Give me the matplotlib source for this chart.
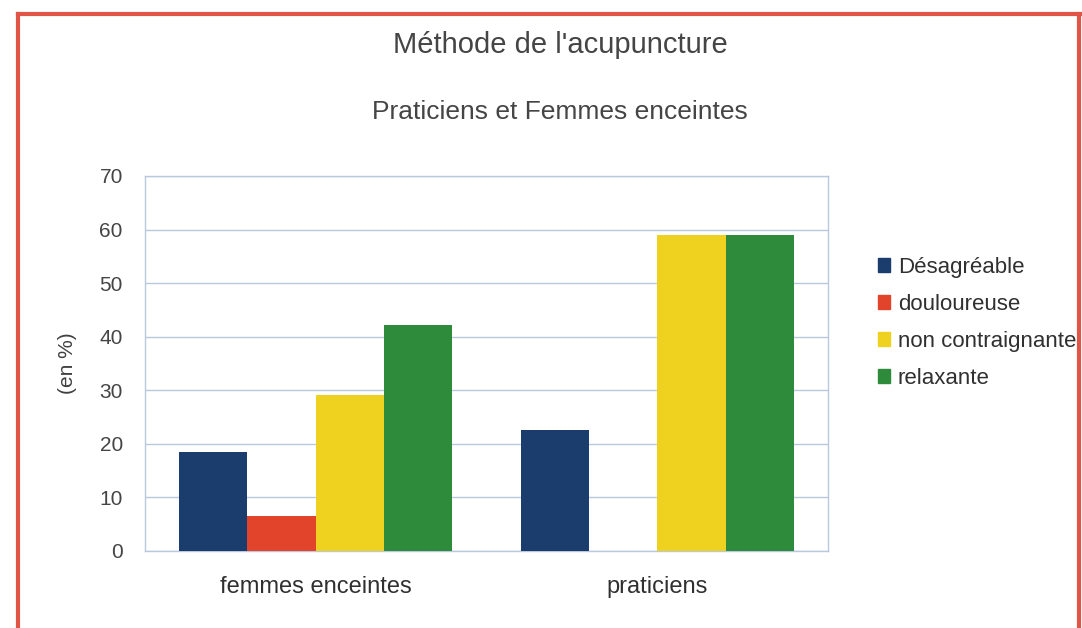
import matplotlib
matplotlib.use("Agg")
import matplotlib.pyplot as plt
import numpy as np
from matplotlib.patches import Rectangle
from matplotlib.lines import Line2D

plt.rcParams['font.family'] = ['Liberation Sans', 'DejaVu Sans']

categories = ["femmes enceintes", "praticiens"]
series_names = ["Désagréable", "douloureuse", "non contraignante", "relaxante"]
desagreable = [18.5, 22.5]
douloureuse = [6.5, 0]
non_contraignante = [29.2, 59]
relaxante = [42.2, 59]
yticks = [0, 10, 20, 30, 40, 50, 60, 70]

colors = ["#1b3d6d", "#e2432b", "#efd21f", "#2f8b3c"]
series = [desagreable, douloureuse, non_contraignante, relaxante]

fig = plt.figure(figsize=(10.82, 6.28), dpi=100)
ax = fig.add_axes([145/1082, 77/628, 683/1082, 375/628])

x = np.arange(len(categories))
w = 0.2
for i, (vals, c) in enumerate(zip(series, colors)):
    ax.bar(x + (i - 1.5) * w, vals, width=w, color=c, label=series_names[i], zorder=3)

ax.set_xlim(-0.5, 1.5)
ax.set_ylim(0, 70)
ax.set_yticks(yticks)
ax.set_yticklabels([str(t) for t in yticks], fontsize=15, color="#454545")
ax.set_xticks(x)
ax.set_xticklabels(categories, fontsize=17, color="#303030")
ax.tick_params(axis='x', length=0, pad=18)
ax.tick_params(axis='y', length=0, pad=16)
ax.grid(axis='y', color="#b9c9dd", linewidth=1.0, zorder=0)
for s in ax.spines.values():
    s.set_color("#b9c9dd")
    s.set_linewidth(1.0)
ax.set_ylabel("(en %)", fontsize=15, color="#404040", labelpad=16)

fig.text(560/1082, 1 - 45/628, "Méthode de l'acupuncture", ha='center', va='center',
         fontsize=21, color="#454545")
fig.text(560/1082, 1 - 112/628, "Praticiens et Femmes enceintes", ha='center', va='center',
         fontsize=19, color="#454545")

handles = [Rectangle((0, 0), 1, 1, color=c) for c in colors]
fig.legend(handles, series_names, loc='upper left', bbox_to_anchor=(860/1082, 1 - 239/628),
           frameon=False, fontsize=16, handlelength=0.55, handleheight=0.55,
           handletextpad=0.35, labelspacing=0.72, labelcolor="#303030",
           borderpad=0.3)

# red frame
red = "#e05548"
fig.add_artist(Line2D([18/1082, 18/1082], [0, 1 - 14/628], transform=fig.transFigure, color=red, lw=3))
fig.add_artist(Line2D([18/1082, 1], [1 - 14/628, 1 - 14/628], transform=fig.transFigure, color=red, lw=3))
fig.add_artist(Line2D([1079/1082, 1079/1082], [0, 1 - 14/628], transform=fig.transFigure, color=red, lw=3))

fig.savefig("out.png", dpi=100)
